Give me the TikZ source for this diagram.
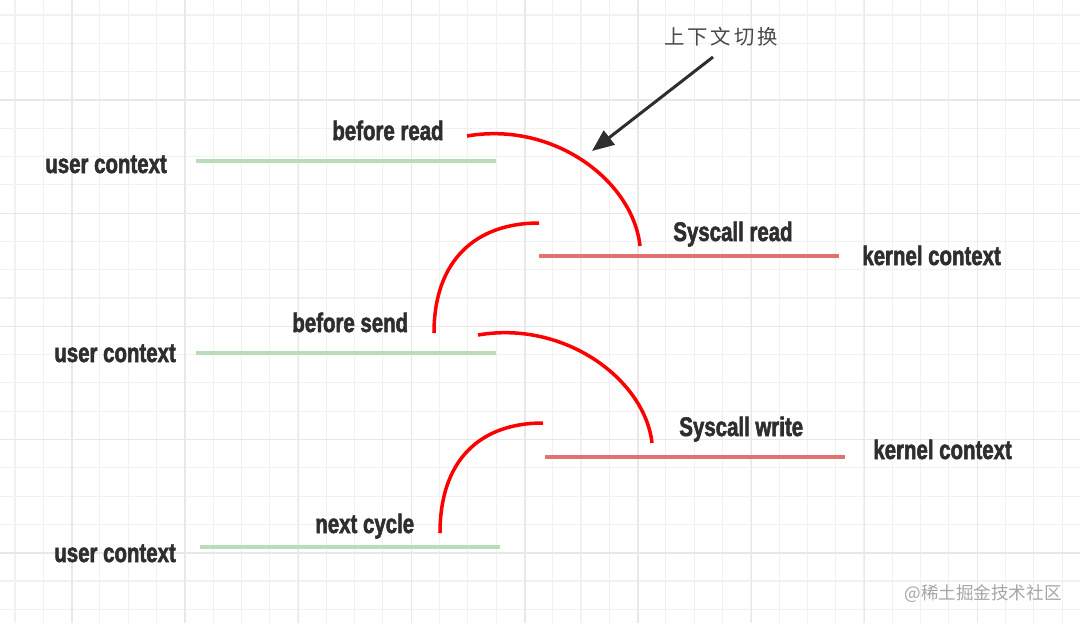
\documentclass[tikz,border=0pt]{standalone}
\usepackage{fontspec}
\setmainfont{Liberation Sans}
\newfontfamily\labfont{Liberation Sans Bold}[FakeStretch=0.76,FakeBold=2]
\newfontfamily\cjk{Noto Sans CJK SC}
\usetikzlibrary{arrows.meta}
\definecolor{txt}{HTML}{2E2E2E}
\definecolor{ugreen}{HTML}{B9DDB9}
\definecolor{kred}{HTML}{E07272}
\definecolor{gminor}{HTML}{F1F1F1}
\definecolor{gmajor}{HTML}{E8E8E8}
\definecolor{notegray}{HTML}{4A4A4A}
\definecolor{wmgray}{HTML}{A6A6A6}
\tikzset{
  lab/.style={font=\labfont\fontsize{15.3pt}{18pt}\selectfont, text=txt, inner sep=0pt, anchor=base west},
  ulinestyle/.style={draw=ugreen, line width=1.8pt},
  klinestyle/.style={draw=kred, line width=2pt},
  swstyle/.style={draw=red, line width=2pt},
  gridminor/.style={draw=gminor, line width=0.6pt},
  gridmajor/.style={draw=gmajor, line width=0.8pt},
}
\begin{document}
\begin{tikzpicture}[x=0.02cm,y=-0.02cm]
\fill[white] (0,0) rectangle (1080,623);
\useasboundingbox (0,0) rectangle (1080,623);
% grid
\foreach \k in {0,...,37} \draw[gridminor] ({15+28.3*\k},0) -- ({15+28.3*\k},623);
\foreach \k in {0,...,21} \draw[gridminor] (0,{15+28.3*\k}) -- (1080,{15+28.3*\k});
\foreach \k in {0,...,8} \draw[gridmajor] ({72+113.2*\k},0) -- ({72+113.2*\k},623);
\foreach \k in {0,...,4} \draw[gridmajor] (0,{100+113.2*\k}) -- (1080,{100+113.2*\k});

% labels
\node[lab] (u1) at (45,173) {user context};
\node[lab] (u2) at (54,362) {user context};
\node[lab] (u3) at (54,562) {user context};
\node[lab] (br) at (332,140) {before read};
\node[lab] (bs) at (292,332) {before send};
\node[lab] (nc) at (315,533) {next cycle};
\node[lab] (sr) at (673,241) {Syscall read};
\node[lab] (swr) at (679,436) {Syscall write};
\node[lab] (k1) at (862,265) {kernel context};
\node[lab] (k2) at (873,459) {kernel context};

% context lines
\coordinate (g1a) at (196,161); \coordinate (g1b) at (496,161);
\coordinate (g2a) at (196,353); \coordinate (g2b) at (496,353);
\coordinate (g3a) at (200,547); \coordinate (g3b) at (500,547);
\coordinate (k1a) at (539,256); \coordinate (k1b) at (839,256);
\coordinate (k2a) at (545,457); \coordinate (k2b) at (845,457);
\draw[ulinestyle] (g1a) -- (g1b);
\draw[ulinestyle] (g2a) -- (g2b);
\draw[ulinestyle] (g3a) -- (g3b);
\draw[klinestyle] (k1a) -- (k1b);
\draw[klinestyle] (k2a) -- (k2b);

% switch arcs
\coordinate (a1s) at (467,136); \coordinate (a1e) at (640,246);
\coordinate (a2s) at (434,333); \coordinate (a2e) at (539,223);
\coordinate (a3s) at (478,335); \coordinate (a3e) at (652,443);
\coordinate (a4s) at (440,533); \coordinate (a4e) at (543,423);
\draw[swstyle] (a1s) .. controls (554,121) and (633,181) .. (a1e);
\draw[swstyle] (a2s) .. controls (434,260) and (476,223) .. (a2e);
\draw[swstyle] (a3s) .. controls (565,320) and (645,380) .. (a3e);
\draw[swstyle] (a4s) .. controls (440,460) and (480,423) .. (a4e);

% annotation
\node[font=\cjk\fontsize{11.6pt}{14pt}\selectfont\addfontfeature{LetterSpace=14}, text=notegray, inner sep=0pt] (note) at (721,37) {上下文切换};
\coordinate (nstart) at (713,57);
\coordinate (ntip) at (592,151);
\draw[draw=txt, line width=1.7pt, -{Triangle[length=12.5pt,width=10pt]}] (nstart) -- (ntip);

% watermark
\node[font=\cjk\fontsize{10pt}{12pt}\selectfont, text=wmgray, inner sep=0pt, anchor=east] (wm) at (1062,594) {@稀土掘金技术社区};
\end{tikzpicture}
\end{document}
